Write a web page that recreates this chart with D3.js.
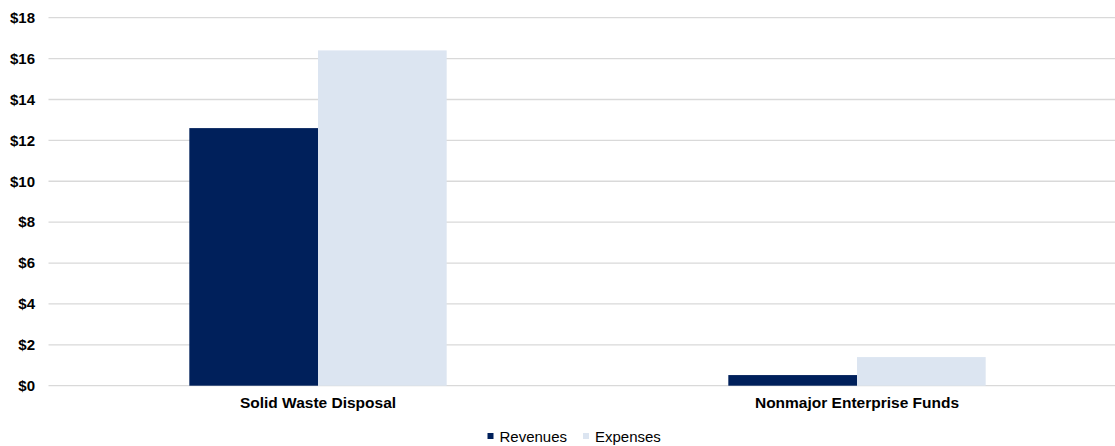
<!DOCTYPE html>
<html><head><meta charset="utf-8">
<script src="https://cdn.jsdelivr.net/npm/d3@7"></script>
<style>body{margin:0;background:#fff;} text{font-family:"Liberation Sans",Arial,sans-serif;}</style>
</head><body>
<svg id="c" width="1115" height="446"></svg>
<script>
const categories = ["Solid Waste Disposal", "Nonmajor Enterprise Funds"];
const seriesNames = ["Revenues", "Expenses"];
const revenues = [12.6, 0.52];
const expenses = [16.4, 1.4];
const colors = ["#00205B", "#DCE5F1"];
const yTicks = [0, 2, 4, 6, 8, 10, 12, 14, 16, 18];

(function () {
const svg = d3.select("#c");
const pLeft = 48.5, pRight = 1126.5, pTop = 17.7, pBottom = 385.7;
const x0 = d3.scaleBand().domain(categories).range([pLeft, pRight]).paddingInner(0.5225).paddingOuter(0.26125);
const x1 = d3.scaleBand().domain(seriesNames).range([0, x0.bandwidth()]);
const y = d3.scaleLinear().domain([0, 18]).range([pBottom, pTop]);

// gridlines
svg.append("g").selectAll("line").data(yTicks).join("line")
  .attr("x1", pLeft).attr("x2", 1115)
  .attr("y1", d => y(d)).attr("y2", d => y(d))
  .attr("stroke", "#d9d9d9").attr("stroke-width", 1.3);

const yAxis = d3.axisLeft(y).tickValues(yTicks).tickFormat(d => "$" + d).tickSize(0).tickPadding(0);
const ga = svg.append("g").attr("transform", `translate(35,0)`).call(yAxis);
ga.select(".domain").remove();
ga.selectAll("text").attr("font-size", 15).attr("font-weight", "bold").attr("fill", "#000")
  .attr("font-family", "Liberation Sans, Arial, sans-serif");

const data = categories.map((c, i) => ({c, vals: [revenues[i], expenses[i]]}));
const g = svg.append("g").selectAll("g").data(data).join("g")
  .attr("transform", d => `translate(${x0(d.c)},0)`);
g.selectAll("rect").data(d => d.vals.map((v, j) => ({k: seriesNames[j], v, j}))).join("rect")
  .attr("x", d => x1(d.k)).attr("width", x1.bandwidth())
  .attr("y", d => y(d.v)).attr("height", d => y(0) - y(d.v))
  .attr("fill", d => colors[d.j]);

const xAxis = d3.axisBottom(x0).tickSize(0).tickPadding(0);
const gx = svg.append("g").attr("transform", `translate(0,${pBottom + 11})`).call(xAxis);
gx.select(".domain").remove();
gx.selectAll("text").attr("font-size", 15.5).attr("font-weight", "bold").attr("fill", "#000")
  .attr("font-family", "Liberation Sans, Arial, sans-serif");

// legend
const legX = [487.5, 583];
const lg = svg.append("g").selectAll("g").data(seriesNames).join("g")
  .attr("transform", (d, i) => `translate(${legX[i]},437)`);
lg.append("rect").attr("x", 0).attr("y", -4).attr("width", 6).attr("height", 6).attr("fill", (d, i) => colors[i]);
lg.append("text").attr("x", 12).attr("y", 0).attr("dy", "0.35em").attr("font-size", 15).attr("fill", "#000").text(d => d);
})();
</script>
</body></html>
